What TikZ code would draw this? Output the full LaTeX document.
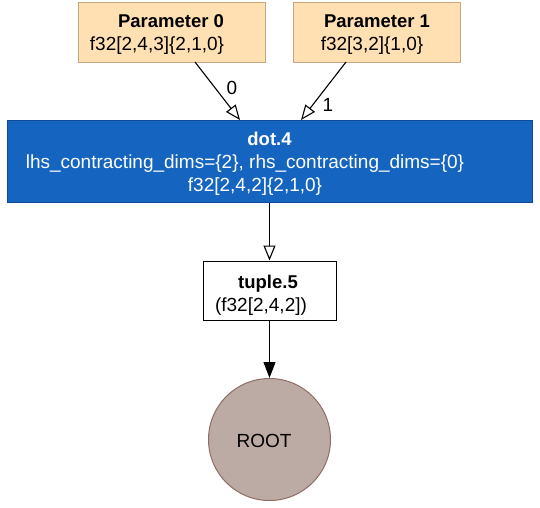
\documentclass[tikz,border=0pt]{standalone}
\usepackage{fontspec}
\setmainfont{Liberation Sans}
\usetikzlibrary{arrows.meta}
\definecolor{paramfill}{HTML}{FFE0B2}
\definecolor{paramdraw}{HTML}{C8A77E}
\definecolor{dotfill}{HTML}{1565C0}
\definecolor{dotdraw}{HTML}{0D4A9A}
\definecolor{rootfill}{HTML}{BCAAA4}
\definecolor{rootdraw}{HTML}{8D6E63}
\tikzset{
  txt/.style={font=\fontsize{19}{22}\selectfont, anchor=base, inner sep=0pt},
  btxt/.style={txt, font=\fontsize{18.5}{22}\selectfont\bfseries},
  parambox/.style={draw=paramdraw, fill=paramfill, line width=1pt, minimum height=60pt, inner sep=0pt},
  dotbox/.style={draw=dotdraw, fill=dotfill, line width=1pt, minimum width=525pt, minimum height=82pt, inner sep=0pt},
  tuplebox/.style={draw=black, fill=white, line width=1pt, minimum width=133pt, minimum height=59pt, inner sep=0pt},
  rootnode/.style={circle, draw=rootdraw, fill=rootfill, line width=1pt, minimum size=122pt, inner sep=0pt},
  openedge/.style={-{Triangle[open, length=15pt, width=12pt]}, line width=1.1pt},
  filledge/.style={-{Triangle[length=16pt, width=12pt]}, line width=1.1pt}
}
\begin{document}
\begin{tikzpicture}[x=1pt, y=-1pt]
\useasboundingbox (0,0) rectangle (540,507);
% boxes
\node[parambox, minimum width=187pt] (p0) at (171.5,32) {};
\node[parambox, minimum width=167pt] (p1) at (376.5,32) {};
\node[dotbox] (dot) at (269.5,161) {};
\node[tuplebox] (tup) at (269.5,290.5) {};
\node[rootnode] (root) at (269.5,439.5) {};
% texts
\node[btxt] (p0a) at (171,27) {Parameter 0};
\node[txt] (p0b) at (157,50) {f32[2,4,3]\{2,1,0\}};
\node[btxt] (p1a) at (377,27) {Parameter 1};
\node[txt] (p1b) at (372,50) {f32[3,2]\{1,0\}};
\node[btxt, text=white] (da) at (269.5,145) {dot.4};
\node[txt, text=white] (db) at (245,168) {lhs\_contracting\_dims=\{2\}, rhs\_contracting\_dims=\{0\}};
\node[txt, text=white] (dc) at (255,191) {f32[2,4,2]\{2,1,0\}};
\node[btxt] (ta) at (268,288) {tuple.5};
\node[txt] (tb) at (261,311) {(f32[2,4,2])};
\node[txt] (rt) at (264,447) {ROOT};
% edges
\coordinate (p0e) at (195,62);
\coordinate (d0) at (240,120);
\coordinate (p1e) at (346,62);
\coordinate (d1) at (301,120);
\draw[openedge] (p0e) -- (d0);
\draw[openedge] (p1e) -- (d1);
\node[txt] (l0) at (232,94) {0};
\node[txt] (l1) at (328,111) {1};
\draw[openedge] (dot.south -| root) -- (tup.north -| root);
\draw[filledge] (tup.south -| root) -- (root.north);
\end{tikzpicture}
\end{document}
